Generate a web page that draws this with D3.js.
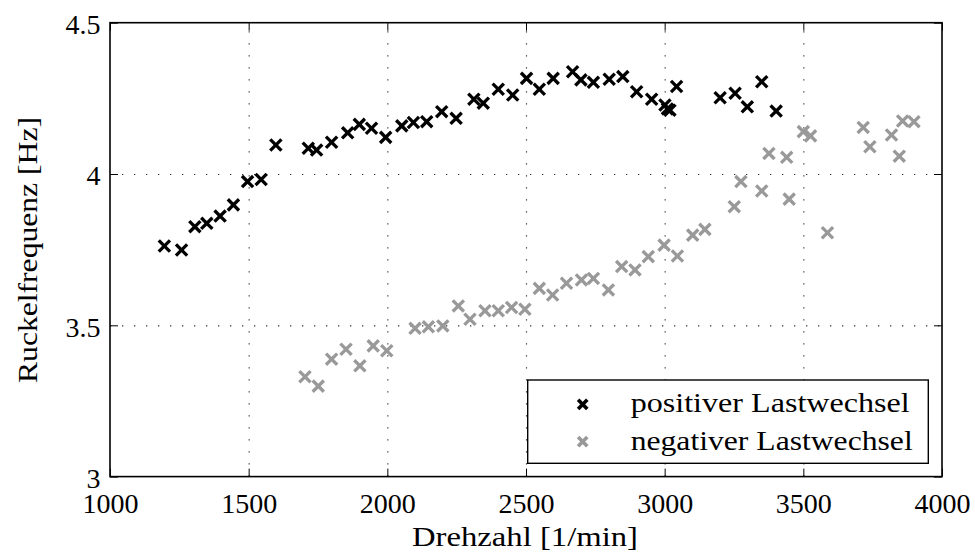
<!DOCTYPE html>
<html><head><meta charset="utf-8">
<script src="https://cdn.jsdelivr.net/npm/d3@7"></script>
<style>
body{margin:0;background:#fff}
svg{display:block}
text{font-family:"Liberation Serif","Times New Roman",serif;fill:#000}
</style>
</head><body>
<svg id="c" width="975" height="552"></svg>
<script>
// ---- data ----
const xTicks = [1000, 1500, 2000, 2500, 3000, 3500, 4000];
const yTicks = [3, 3.5, 4, 4.5];
const seriesNames = ["positiver Lastwechsel", "negativer Lastwechsel"];
const seriesColors = ["#000000", "#999999"];
const xLabel = "Drehzahl [1/min]";
const yLabel = "Ruckelfrequenz [Hz]";

const posRpm  = [1196,1258,1306,1349,1397,1445,1496,1545,1598,1715,1745,1799,1857,1899,1943,1994,2052,2094,2142,2196,2248,2312,2346,2400,2452,2502,2548,2598,2668,2698,2743,2800,2849,2899,2953,3001,3010,3019,3043,3200,3254,3298,3350,3402];
const posFreq = [3.762,3.749,3.826,3.837,3.861,3.898,3.975,3.982,4.096,4.085,4.079,4.105,4.136,4.164,4.151,4.121,4.159,4.170,4.173,4.206,4.184,4.247,4.234,4.280,4.261,4.316,4.280,4.316,4.338,4.311,4.303,4.313,4.322,4.272,4.247,4.228,4.215,4.211,4.289,4.252,4.267,4.222,4.305,4.208];

const negRpm  = [1703,1751,1799,1851,1901,1949,1998,2100,2148,2200,2256,2298,2352,2400,2448,2496,2548,2596,2646,2700,2743,2797,2845,2893,2941,2998,3046,3101,3145,3251,3275,3350,3376,3440,3449,3500,3526,3587,3716,3740,3818,3846,3858,3899];
const negFreq = [3.330,3.299,3.388,3.421,3.366,3.432,3.416,3.490,3.495,3.498,3.564,3.520,3.548,3.548,3.559,3.553,3.622,3.600,3.639,3.650,3.655,3.617,3.694,3.683,3.727,3.765,3.729,3.798,3.817,3.892,3.975,3.944,4.068,4.055,3.917,4.140,4.126,3.806,4.154,4.090,4.129,4.059,4.175,4.173];

// ---- layout ----
const L = 110, R = 942, T = 22.7, B = 476.6;
const FS = 28;
const svg = d3.select("#c");
const x = d3.scaleLinear().domain([1000, 4000]).range([L, R]);
const y = d3.scaleLinear().domain([3, 4.5]).range([B, T]);

// grid
const gridStyle = g => {
  g.select(".domain").remove();
  g.selectAll("line").attr("stroke", "#333").attr("stroke-width", 1.2).attr("stroke-dasharray", "1.3,10.7");
};
svg.append("g").attr("transform", `translate(0,${B})`)
  .call(d3.axisBottom(x).tickValues(xTicks.slice(1, -1)).tickSize(-(B - T)).tickFormat(""))
  .call(gridStyle);
svg.append("g").attr("transform", `translate(${L},0)`)
  .call(d3.axisLeft(y).tickValues(yTicks.slice(1, -1)).tickSize(-(R - L)).tickFormat(""))
  .call(gridStyle);

// markers
function cross(sel, a, w, color) {
  sel.append("line").attr("x1", -a).attr("y1", -a).attr("x2", a).attr("y2", a);
  sel.append("line").attr("x1", -a).attr("y1", a).attr("x2", a).attr("y2", -a);
  sel.selectAll("line").attr("stroke", color).attr("stroke-width", w);
}
const series = [
  {rpm: negRpm, f: negFreq, c: seriesColors[1]},
  {rpm: posRpm, f: posFreq, c: seriesColors[0]}
];
series.forEach(s => {
  const pts = s.rpm.map((r, i) => [r, s.f[i]]);
  svg.append("g").selectAll("g").data(pts).join("g")
    .attr("transform", d => `translate(${x(d[0])},${y(d[1])})`)
    .each(function () { cross(d3.select(this), 5.6, 3.3, s.c); });
});

// axes
const axStyle = g => {
  g.select(".domain").remove();
  g.selectAll("line").attr("stroke", "#000").attr("stroke-width", 1);
  g.selectAll("text").attr("font-size", FS).attr("font-family", '"Liberation Serif","Times New Roman",serif');
};
svg.append("g").attr("transform", `translate(0,${B})`)
  .call(d3.axisBottom(x).tickValues(xTicks).tickSize(-8).tickSizeOuter(0).tickPadding(16.8).tickFormat(d => String(d)))
  .call(axStyle);
svg.append("g").attr("transform", `translate(0,${T})`)
  .call(d3.axisTop(x).tickValues(xTicks).tickSize(-8).tickSizeOuter(0).tickFormat(""))
  .call(axStyle);
const yAx = svg.append("g").attr("transform", `translate(${L},0)`)
  .call(d3.axisLeft(y).tickValues(yTicks).tickSize(-8).tickSizeOuter(0).tickPadding(9.5).tickFormat(d => String(d)))
  .call(axStyle);
yAx.selectAll("text").attr("dy", "0.39em");
svg.append("g").attr("transform", `translate(${R},0)`)
  .call(d3.axisRight(y).tickValues(yTicks).tickSize(-8).tickSizeOuter(0).tickFormat(""))
  .call(axStyle);

// frame
svg.append("rect").attr("x", L).attr("y", T).attr("width", R - L).attr("height", B - T)
  .attr("fill", "none").attr("stroke", "#000").attr("stroke-width", 1.6);

// axis labels
svg.append("text").attr("x", 525).attr("y", 546).attr("text-anchor", "middle")
  .attr("font-size", FS).attr("textLength", 226).attr("lengthAdjust", "spacingAndGlyphs").text(xLabel);
svg.append("text").attr("transform", "translate(37,250) rotate(-90)").attr("text-anchor", "middle")
  .attr("font-size", FS).attr("textLength", 266).attr("lengthAdjust", "spacingAndGlyphs").text(yLabel);

// legend
const lg = svg.append("g");
lg.append("rect").attr("x", 527.7).attr("y", 380).attr("width", 400.6).attr("height", 83.3)
  .attr("fill", "#fff").attr("stroke", "#000").attr("stroke-width", 1.4);
const rows = [{my: 404.3, ty: 411.7, w: 279}, {my: 441.7, ty: 450, w: 282}];
rows.forEach((r, i) => {
  const m = lg.append("g").attr("transform", `translate(582.7,${r.my})`);
  cross(m, 4.6, 3.6, seriesColors[i]);
  lg.append("text").attr("x", 630.7).attr("y", r.ty).attr("font-size", FS)
    .attr("textLength", r.w).attr("lengthAdjust", "spacingAndGlyphs").text(seriesNames[i]);
});
</script>
</body></html>
